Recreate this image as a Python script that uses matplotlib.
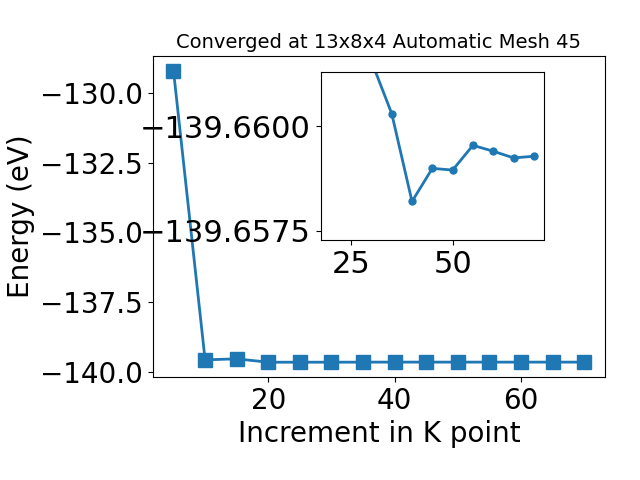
import numpy as np
import matplotlib
matplotlib.use('Agg')
import matplotlib.pyplot as plt

kpoints = [5, 10, 15, 20, 25, 30, 35, 40, 45, 50, 55, 60, 65, 70]
energy = [-129.194, -139.577, -139.541, -139.6626, -139.6619, -139.66155,
          -139.66030, -139.65820, -139.65899, -139.65895, -139.65954,
          -139.65940, -139.65924, -139.65928]

fig = plt.figure(figsize=(6.4, 4.8), dpi=100)
ax = fig.add_axes([0.239, 0.215, 0.706, 0.668])
ax.plot(kpoints, energy, marker='s', markersize=10, linewidth=2, color='#1f77b4')
ax.set_xlabel('Increment in K point', fontsize=20)
ax.set_ylabel('Energy (eV)', fontsize=20)
ax.set_title('Converged at 13x8x4 Automatic Mesh 45', fontsize=14)
ax.tick_params(labelsize=20)

# zoomed view of the converged region
ins = fig.add_axes([0.501, 0.5, 0.349, 0.349])
ins.plot(kpoints[3:], energy[3:], marker='o', markersize=5, linewidth=2, color='#1f77b4')
ins.set_ylim(-139.65728, -139.66128)
ins.set_yticks([-139.6600, -139.6575])
ins.ticklabel_format(axis='y', useOffset=False)
ins.tick_params(labelsize=22)

plt.savefig('out.png', dpi=100)
plt.close()
